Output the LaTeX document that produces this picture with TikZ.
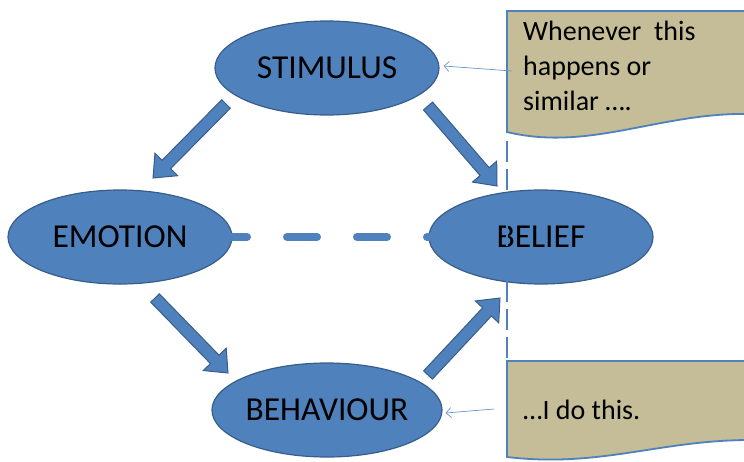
\documentclass[tikz,border=0pt]{standalone}
\usepackage{fontspec}
\setmainfont{Carlito}
\usepackage{tikz}
\usetikzlibrary{shapes.geometric,arrows.meta,calc,positioning}
\definecolor{ellfill}{HTML}{4F81BD}
\definecolor{elldraw}{HTML}{385D8A}
\definecolor{notefill}{HTML}{C4BD97}
\definecolor{notedraw}{HTML}{4F81BD}

\begin{document}
\begin{tikzpicture}[x=1pt, y=-1pt,
    state/.style = {ellipse, draw=elldraw, fill=ellfill, line width=1.2pt,
      minimum width=224pt, minimum height=94pt, inner sep=0pt,
      font=\fontsize{33.5}{40}\selectfont},
    blockarrow/.style = {draw=elldraw, fill=ellfill, line width=1pt, line join=miter,
      to path={($(\tikztostart)!6pt!90:(\tikztotarget)$)
        -- ($(\tikztotarget)!19pt!(\tikztostart)!6pt!90:(\tikztotarget)$)
        -- ($(\tikztotarget)!19pt!(\tikztostart)!16pt!90:(\tikztotarget)$)
        -- (\tikztotarget)
        -- ($(\tikztotarget)!19pt!(\tikztostart)!16pt!-90:(\tikztotarget)$)
        -- ($(\tikztotarget)!19pt!(\tikztostart)!6pt!-90:(\tikztotarget)$)
        -- ($(\tikztostart)!6pt!-90:(\tikztotarget)$) -- cycle}},
    note/.style = {draw=notedraw, fill=notefill, line width=1.8pt},
    notetext/.style = {anchor=north west, inner sep=0pt, align=left,
      font=\fontsize{28}{35}\selectfont},
    pointer/.style = {draw=notedraw!85, line width=0.7pt,
      -{Straight Barb[length=5pt,width=10pt]}},
    link/.style = {draw=ellfill, line width=8pt, line cap=round,
      dash pattern=on 30pt off 40pt},
    divider/.style = {draw=ellfill, line width=2pt, dash pattern=on 21pt off 7pt}
  ]
  \useasboundingbox (0,0) rectangle (744,461);
  \clip (0,0) rectangle (744,461);

  % the four states
  \node[state] (stim) at (327,68) {STIMULUS};
  \node[state] (emo) at (120,237) {EMOTION};
  \node[state] (bel) at (541,237) {BELIEF};
  \node[state] (beh) at (327,410) {BEHAVIOUR};

  % block arrows between them
  \coordinate (a1) at (226,104); \coordinate (b1) at (153,178);
  \coordinate (a2) at (428,106); \coordinate (b2) at (497,186);
  \coordinate (a3) at (155,298); \coordinate (b3) at (228,373);
  \coordinate (a4) at (428,375); \coordinate (b4) at (500,298);
  \draw[blockarrow] (a1) to (b1);
  \draw[blockarrow] (a2) to (b2);
  \draw[blockarrow] (a3) to (b3);
  \draw[blockarrow] (a4) to (b4);

  % dashed link emotion -- belief
  \draw[link, shorten <=97pt, shorten >=88pt] (emo.center) -- (bel.center);

  % divider
  \coordinate (d1) at (507,141);
  \coordinate (d2) at (507,358);
  \draw[divider] (d1) -- (d2);

  % callouts
  \draw[note] (507,11) -- (750,11) -- (750,114)
    .. controls (660,112) and (590,152) .. (507,132) -- cycle;
  \node[notetext] (when) at (523,21) {Whenever\ \ this\\happens or\\similar ….};
  \draw[note] (507,361) -- (750,361) -- (750,440)
    .. controls (660,440) and (600,468) .. (507,457) -- cycle;
  \node[notetext, anchor=west] (then) at (523,410) {…I do this.};

  \coordinate (p1) at (512,71);
  \coordinate (p2) at (494,409);
  \draw[pointer] (p1) -- ($(stim.east)+(4,-2)$);
  \draw[pointer] (p2) -- ($(beh.east)+(3,3)$);
\end{tikzpicture}
\end{document}
